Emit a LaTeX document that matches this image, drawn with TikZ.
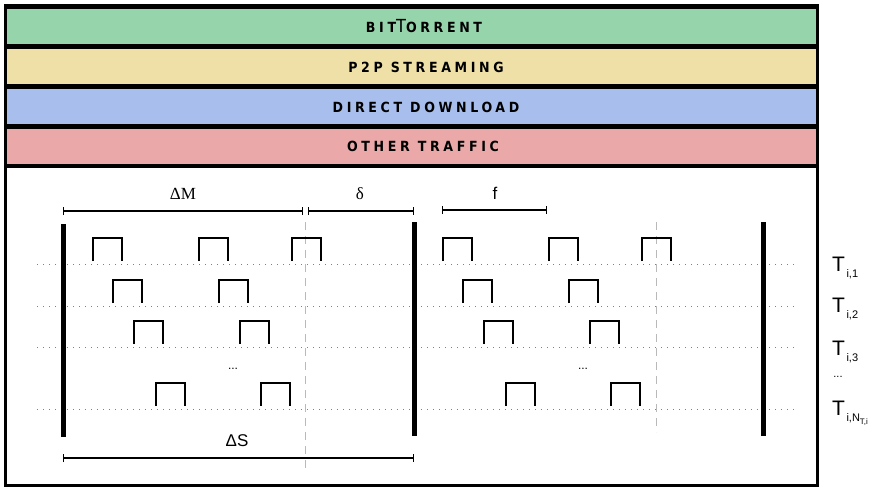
\documentclass[tikz,border=0pt]{standalone}
\usepackage{fontspec}
\setmainfont{Liberation Serif}
\setsansfont{Liberation Sans}
\newfontfamily\bandfont[LetterSpace=26]{DejaVu Sans Condensed}
\usetikzlibrary{arrows.meta}
\definecolor{btgreen}{RGB}{150,213,172}
\definecolor{styellow}{RGB}{238,224,167}
\definecolor{ddblue}{RGB}{168,190,236}
\definecolor{otred}{RGB}{235,168,168}
\newcommand{\bandsize}{\fontsize{14}{14}\selectfont}
\begin{document}
\begin{tikzpicture}[x=1pt,y=-1pt,
  bandlabel/.style={font=\bandfont\bfseries\bandsize, inner sep=0pt},
  pulse/.style={line width=1.8pt, line cap=butt},
  timebar/.style={line width=5pt},
  tracks/.style={gray, line width=1pt, dash pattern=on 1pt off 5pt},
  guide/.style={gray!55, line width=0.8pt, dash pattern=on 8pt off 6pt},
  dim/.style={line width=1.1pt, {Bar[width=8pt,line width=1.1pt]}-{Bar[width=8pt,line width=1.1pt]}},
  serifl/.style={font=\fontsize{17}{17}\selectfont, inner sep=0pt},
  sansl/.style={font=\sffamily\fontsize{17}{17}\selectfont, inner sep=0pt},
  tlabel/.style={font=\sffamily, inner sep=0pt, anchor=base west}]
\useasboundingbox (0,0) rectangle (880,488);

% outer frame and traffic-class bands
\fill[black] (4,4) rectangle (819,487);
\fill[btgreen]  (7,8.5)   rectangle (816,43.5);
\fill[styellow] (7,48.5)  rectangle (816,84);
\fill[ddblue]   (7,89)    rectangle (816,124);
\fill[otred]    (7,129)   rectangle (816,163.5);
\fill[white]    (7,168)   rectangle (816,484);

\node[bandlabel] (bt) at (424,26) {BIT{\mdseries\fontsize{18}{18}\selectfont T}ORRENT};
\node[bandlabel] (ps) at (426,67) {P2P STREAMING};
\node[bandlabel] (dd) at (426,107) {DIRECT DOWNLOAD};
\node[bandlabel] (ot) at (423,146) {OTHER TRAFFIC};

% flow tracks
\foreach \ty in {264,306,347,409}
  \draw[tracks] (37,\ty) -- (796,\ty);

% sampling guides
\draw[guide] (305,222) -- (305,472);
\draw[guide] (656,222) -- (656,432);

% packet pulses (left window, repeated in the right window)
\foreach \px/\ty in {93/264,199/264,292/264,
                     113/306,219/306,
                     134/347,240/347,
                     156/409,261/409}{
  \draw[pulse] (\px,\ty-3) -- (\px,\ty-26) -- (\px+29,\ty-26) -- (\px+29,\ty-3);
  \draw[pulse] (\px+350,\ty-3) -- (\px+350,\ty-26) -- (\px+379,\ty-26) -- (\px+379,\ty-3);
}
\node[sansl, font=\sffamily\fontsize{12}{12}\selectfont] (e1) at (233,369) {...};
\node[sansl, font=\sffamily\fontsize{12}{12}\selectfont] (e2) at (583,369) {...};

% window boundaries
\draw[timebar] (63,224) -- (63,437);
\draw[timebar] (414,222) -- (414,436);
\draw[timebar] (763,222) -- (763,436);

% dimensions
\coordinate (m0) at (63,211);
\coordinate (m1) at (303,211);
\coordinate (d0) at (308,211);
\coordinate (d1) at (414,211);
\coordinate (f0) at (442,210);
\coordinate (f1) at (547,210);
\coordinate (s0) at (63,458);
\coordinate (s1) at (414,458);
\draw[dim] (m0) -- (m1);
\draw[dim] (d0) -- (d1);
\draw[dim] (f0) -- (f1);
\draw[dim] (s0) -- (s1);
\node[serifl] (lm) at (183,194) {ΔM};
\node[serifl] (ld) at (360,194) {δ};
\node[sansl] (lf) at (495,193) {f};
\node[sansl] (ls) at (237,441) {ΔS};

% flow labels
\node[tlabel] (t1) at (832,271) {{\fontsize{21}{21}\selectfont T}\kern1.5pt\raisebox{-6pt}{\fontsize{11}{11}\selectfont i,1}};
\node[tlabel] (t2) at (832,312) {{\fontsize{21}{21}\selectfont T}\kern1.5pt\raisebox{-6pt}{\fontsize{11}{11}\selectfont i,2}};
\node[tlabel] (t3) at (832,355) {{\fontsize{21}{21}\selectfont T}\kern1.5pt\raisebox{-6pt}{\fontsize{11}{11}\selectfont i,3}};
\node[sansl, font=\sffamily\fontsize{11}{11}\selectfont] (t4) at (838,377) {...};
\node[tlabel] (tn) at (832,415) {{\fontsize{21}{21}\selectfont T}\kern1.5pt\raisebox{-6pt}{\fontsize{11}{11}\selectfont i,N\raisebox{-3.5pt}{\fontsize{8}{8}\selectfont T,i}}};
\end{tikzpicture}
\end{document}
